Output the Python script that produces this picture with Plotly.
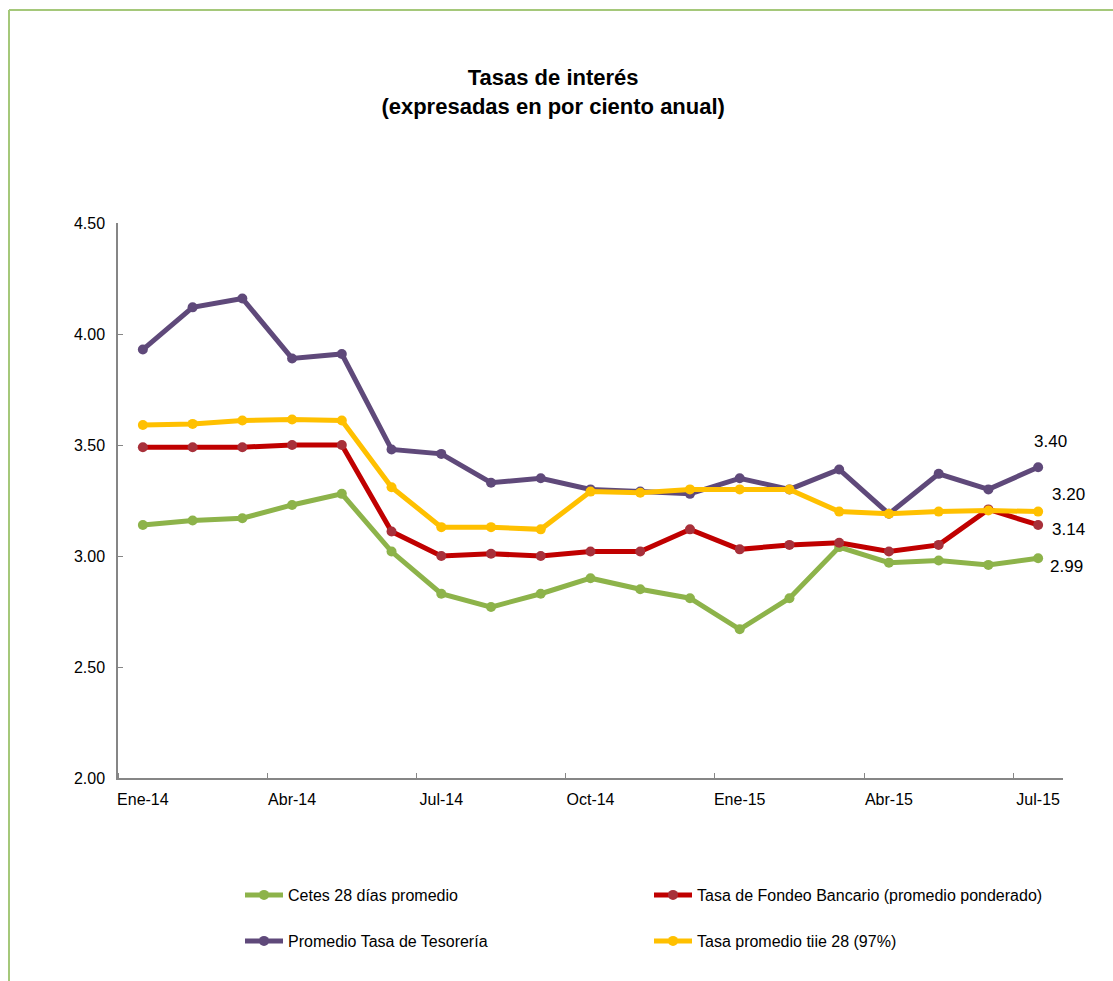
import plotly.graph_objects as go

# Monthly series, Jan-2014 .. Jul-2015
meses = ["Ene-14", "Feb-14", "Mar-14", "Abr-14", "May-14", "Jun-14", "Jul-14",
         "Ago-14", "Sep-14", "Oct-14", "Nov-14", "Dic-14", "Ene-15", "Feb-15",
         "Mar-15", "Abr-15", "May-15", "Jun-15", "Jul-15"]

cetes = [3.14, 3.16, 3.17, 3.23, 3.28, 3.02, 2.83, 2.77, 2.83, 2.90, 2.85, 2.81,
         2.67, 2.81, 3.04, 2.97, 2.98, 2.96, 2.99]
fondeo = [3.49, 3.49, 3.49, 3.50, 3.50, 3.11, 3.00, 3.01, 3.00, 3.02, 3.02, 3.12,
          3.03, 3.05, 3.06, 3.02, 3.05, 3.21, 3.14]
tesoreria = [3.93, 4.12, 4.16, 3.89, 3.91, 3.48, 3.46, 3.33, 3.35, 3.30, 3.29, 3.28,
             3.35, 3.30, 3.39, 3.19, 3.37, 3.30, 3.40]
tiie = [3.59, 3.595, 3.61, 3.615, 3.61, 3.31, 3.13, 3.13, 3.12, 3.29, 3.285, 3.30,
        3.30, 3.30, 3.20, 3.19, 3.20, 3.205, 3.20]

ticks_mes = [0, 3, 6, 9, 12, 15, 18]

FONT = "Liberation Sans Narrow, Arial Narrow, Liberation Sans, Arial, sans-serif"
x = list(range(len(meses)))

series = [
    ("Cetes 28 días promedio", cetes, "#8DB34A", "#8DB34A", "legend"),
    ("Tasa de Fondeo Bancario (promedio ponderado)", fondeo, "#C00000", "#A8303A", "legend"),
    ("Promedio Tasa de Tesorería", tesoreria, "#5F497A", "#5F497A", "legend2"),
    ("Tasa promedio tiie 28 (97%)", tiie, "#FFC000", "#FFC000", "legend2"),
]

fig = go.Figure()
for name, vals, col, mcol, leg in series:
    fig.add_trace(go.Scatter(
        x=x, y=vals, name=name, mode="lines+markers",
        line=dict(color=col, width=5),
        marker=dict(color=mcol, size=10, line=dict(width=0)),
        legend=leg, cliponaxis=False,
        hovertemplate="%{y:.2f}<extra>" + name + "</extra>",
    ))

# Value labels on the last month
last = len(meses) - 1
for vals, dx, dy in [(tesoreria, 12, 26), (tiie, 30, 17), (fondeo, 30, -5), (cetes, 28, -8)]:
    fig.add_annotation(x=last, y=vals[last], xref="x", yref="y",
                       text=f"{vals[last]:.2f}", showarrow=False,
                       xshift=dx, yshift=dy,
                       font=dict(family=FONT, size=17, color="#000000"))

# Outer chart border
W, H = 1113, 981
L, R, T, B = 118, 50, 223, 203
pw, ph = W - L - R, H - T - B
def px_x(p):
    return (p - L) / pw
def px_y(p):
    return (H - B - p) / ph
fig.add_shape(type="line", xref="paper", yref="paper",
              x0=px_x(9), x1=px_x(1120), y0=px_y(10), y1=px_y(10),
              line=dict(color="#A5C87A", width=2))
fig.add_shape(type="line", xref="paper", yref="paper",
              x0=px_x(9), x1=px_x(9), y0=px_y(10), y1=px_y(990),
              line=dict(color="#A5C87A", width=2))

fig.update_layout(
    width=W, height=H,
    margin=dict(l=L, r=R, t=T, b=B),
    paper_bgcolor="white", plot_bgcolor="white",
    font=dict(family=FONT, size=16, color="#000000"),
    title=dict(text="<b>Tasas de interés<br>(expresadas en por ciento anual)</b>",
               x=0.497, xanchor="center", y=1 - 85 / H, yanchor="middle",
               font=dict(family=FONT, size=22, color="#000000")),
    xaxis=dict(range=[-0.5, len(meses) - 0.5], tickmode="array",
               tickvals=ticks_mes, ticktext=[meses[i] for i in ticks_mes],
               ticks="", showgrid=False, zeroline=False,
               showline=True, linecolor="#868686", linewidth=1.5,
               tickfont=dict(size=16), ticklabelstandoff=6,
               minor=dict(tick0=-0.5, dtick=3, ticks="inside", ticklen=5,
                          tickcolor="#868686", showgrid=False)),
    yaxis=dict(range=[2.0, 4.5], tickmode="array",
               tickvals=[2.0, 2.5, 3.0, 3.5, 4.0, 4.5], tickformat=".2f",
               ticks="inside", ticklen=5, tickcolor="#868686",
               showgrid=False, zeroline=False,
               showline=True, linecolor="#868686", linewidth=1.5,
               tickfont=dict(size=16), ticklabelstandoff=8),
    legend=dict(orientation="h", x=px_x(240), y=px_y(895), xanchor="left",
                yanchor="middle", entrywidth=356, font=dict(size=16),
                bgcolor="rgba(0,0,0,0)", itemwidth=38),
    legend2=dict(orientation="h", x=px_x(240), y=px_y(941), xanchor="left",
                 yanchor="middle", entrywidth=356, font=dict(size=16),
                 bgcolor="rgba(0,0,0,0)", itemwidth=38),
    showlegend=True,
)

fig.write_html("out.html")
